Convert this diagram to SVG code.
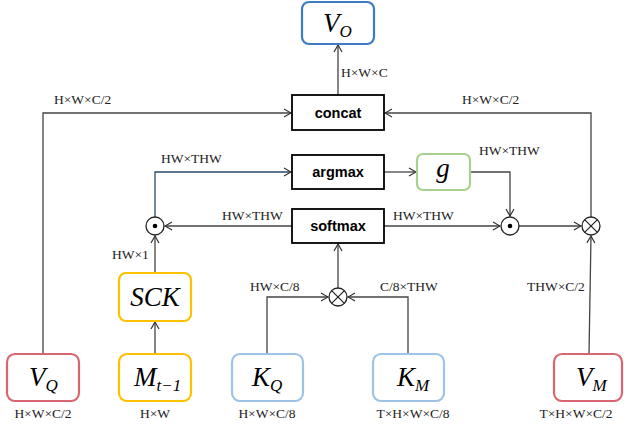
<svg xmlns="http://www.w3.org/2000/svg" width="624" height="427" viewBox="0 0 624 427">
<style>
.lbl{font-family:"Liberation Serif",serif;font-size:13.5px;fill:#222}
.op{font-family:"Liberation Sans",Arial,sans-serif;font-size:14.5px;font-weight:bold;fill:#000}
.nm{font-family:"Liberation Serif",serif;font-style:italic;font-size:27px;fill:#000}
.sub{font-size:17px}
.box{fill:#fff;stroke:#000;stroke-width:1.8}
.rn{fill:#fff;stroke-width:2.2}
.ln{fill:none;stroke:#444;stroke-width:1.3}
.circ{fill:#fff;stroke:#222;stroke-width:1.3}
</style>
<defs>
<marker id="ah" markerWidth="10" markerHeight="10" refX="9" refY="5" orient="auto" markerUnits="userSpaceOnUse">
<polyline points="2,1 9,5 2,9" fill="none" stroke="#333" stroke-width="1.2"/>
</marker>
</defs>
<g id="connectors">
<line class="ln" x1="338" y1="95" x2="338" y2="45" marker-end="url(#ah)"/>
<polyline class="ln" points="43,354 43,113 291,113" marker-end="url(#ah)"/>
<polyline class="ln" points="591,217 591,113 385,113" marker-end="url(#ah)"/>
<polyline class="ln" style="stroke:#2b4a6b" points="155,217 155,172 291,172" marker-end="url(#ah)"/>
<line class="ln" x1="384" y1="172" x2="416" y2="172" marker-end="url(#ah)"/>
<polyline class="ln" points="470,172 510,172 510,216" marker-end="url(#ah)"/>
<line class="ln" x1="292" y1="226" x2="165" y2="226" marker-end="url(#ah)"/>
<line class="ln" x1="384" y1="226" x2="500" y2="226" marker-end="url(#ah)"/>
<line class="ln" x1="519" y1="226" x2="581" y2="226" marker-end="url(#ah)"/>
<line class="ln" x1="155" y1="273" x2="155" y2="236" marker-end="url(#ah)"/>
<line class="ln" x1="155" y1="354" x2="155" y2="322" marker-end="url(#ah)"/>
<polyline class="ln" points="267,354 267,297 328,297" marker-end="url(#ah)"/>
<polyline class="ln" points="408,354 408,297 348,297" marker-end="url(#ah)"/>
<line class="ln" x1="338" y1="288" x2="338" y2="244" marker-end="url(#ah)"/>
<line class="ln" x1="589" y1="354" x2="591" y2="236" marker-end="url(#ah)"/>
</g>
<g id="labels">
<text class="lbl" x="341" y="77">H×W×C</text>
<text class="lbl" x="54" y="104">H×W×C/2</text>
<text class="lbl" x="462" y="104">H×W×C/2</text>
<text class="lbl" x="161" y="163">HW×THW</text>
<text class="lbl" x="479" y="155">HW×THW</text>
<text class="lbl" x="222" y="220">HW×THW</text>
<text class="lbl" x="393" y="220">HW×THW</text>
<text class="lbl" x="112" y="259">HW×1</text>
<text class="lbl" x="250" y="291">HW×C/8</text>
<text class="lbl" x="380" y="291">C/8×THW</text>
<text class="lbl" x="527" y="291">THW×C/2</text>
<text class="lbl" x="43" y="418" text-anchor="middle">H×W×C/2</text>
<text class="lbl" x="155" y="418" text-anchor="middle">H×W</text>
<text class="lbl" x="267" y="418" text-anchor="middle">H×W×C/8</text>
<text class="lbl" x="413" y="418" text-anchor="middle">T×H×W×C/8</text>
<text class="lbl" x="576" y="418" text-anchor="middle">T×H×W×C/2</text>
</g>
<g id="VO"><rect class="rn" x="302" y="2" width="72" height="42" rx="7" stroke="#3d7cc0"/><text class="nm" x="323" y="32">V<tspan class="sub" dy="5">O</tspan></text></g>
<g id="concat"><rect class="box" x="292" y="95" width="92" height="35"/><text class="op" x="338" y="118" text-anchor="middle">concat</text></g>
<g id="argmax"><rect class="box" x="292" y="155" width="92" height="34"/><text class="op" x="338" y="177" text-anchor="middle">argmax</text></g>
<g id="softmax"><rect class="box" x="292" y="209" width="92" height="34"/><text class="op" x="338" y="231" text-anchor="middle">softmax</text></g>
<g id="g"><rect class="rn" x="417" y="154" width="53" height="36" rx="6" stroke="#a9d18e"/><text class="nm" x="443" y="177" text-anchor="middle">g</text></g>
<g id="dot1"><circle class="circ" cx="155" cy="226" r="9"/><circle cx="155" cy="226" r="2.3" fill="#000"/></g>
<g id="dot2"><circle class="circ" cx="510" cy="226" r="9"/><circle cx="510" cy="226" r="2.3" fill="#000"/></g>
<g id="otimes1"><circle class="circ" cx="591" cy="226" r="9"/><path d="M584.6,219.6 L597.4,232.4 M597.4,219.6 L584.6,232.4" stroke="#222" stroke-width="1.2"/></g>
<g id="otimes2"><circle class="circ" cx="338" cy="297" r="9"/><path d="M331.6,290.6 L344.4,303.4 M344.4,290.6 L331.6,303.4" stroke="#222" stroke-width="1.2"/></g>
<g id="SCK"><rect class="rn" x="119" y="273" width="72" height="48" rx="7" stroke="#ffc000"/><text class="nm" x="155" y="306" text-anchor="middle">SCK</text></g>
<g id="VQ"><rect class="rn" x="7" y="354" width="72" height="47" rx="8" stroke="#d9666f"/><text class="nm" x="29" y="386">V<tspan class="sub" dy="5">Q</tspan></text></g>
<g id="Mt1"><rect class="rn" x="119" y="354" width="72" height="47" rx="8" stroke="#ffc000"/><text class="nm" x="134" y="386">M<tspan class="sub" dy="5">t−1</tspan></text></g>
<g id="KQ"><rect class="rn" x="232" y="354" width="71" height="47" rx="8" stroke="#9dc3e6"/><text class="nm" x="252" y="386">K<tspan class="sub" dy="5">Q</tspan></text></g>
<g id="KM"><rect class="rn" x="373" y="354" width="71" height="47" rx="8" stroke="#9dc3e6"/><text class="nm" x="397" y="386">K<tspan class="sub" dy="5">M</tspan></text></g>
<g id="VM"><rect class="rn" x="554" y="354" width="68" height="47" rx="8" stroke="#d9666f"/><text class="nm" x="576" y="386">V<tspan class="sub" dy="5">M</tspan></text></g>
</svg>
